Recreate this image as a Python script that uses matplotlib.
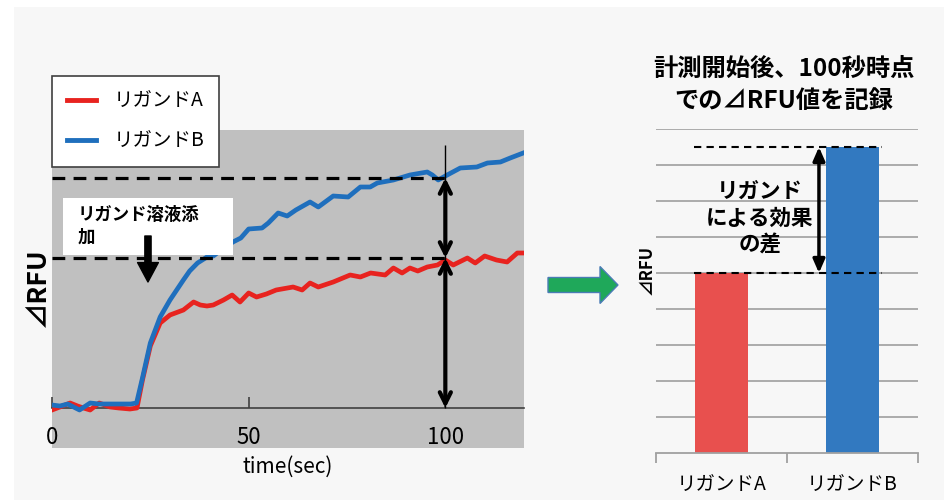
import numpy as np
import matplotlib
matplotlib.use("Agg")
import matplotlib.pyplot as plt
from matplotlib.patches import Rectangle, FancyArrow
from matplotlib.lines import Line2D

plt.rcParams['font.family'] = ['Noto Sans CJK JP', 'DejaVu Sans']

# time course (sec) and delta RFU for the two ligands
t_a = [0, 2, 4.6, 6.5, 8, 9.7, 12, 14.8, 17, 19.8, 21.6, 23, 25, 27.5, 30, 33.4, 36,
       37.7, 39.4, 41, 43.6, 45.8, 47.8, 50, 52, 54.5, 57, 61.3, 63.6, 65.6, 67.7,
       71.5, 75.8, 78.4, 81, 84.7, 86.8, 89, 91, 93, 95.4, 98, 100, 102, 105.6,
       107.6, 110, 113, 115.7, 118.3, 120]
rfu_a = [-2, 1, 5, 2, 0, -2, 5, 1, 0, -1, 0, 28, 62, 85, 93, 98, 106,
         103, 102, 103, 108, 113, 106, 115, 111, 114, 118, 121, 118, 125, 121,
         126, 133, 131, 135, 133, 140, 135, 140, 137, 141, 143, 148, 143, 150,
         145, 152, 148, 146, 155, 155]

t_b = [0, 2, 4, 7, 9.7, 12, 14, 16, 18, 20, 21.5, 23, 25, 27.5, 30, 33.4, 35, 37,
       39.4, 41, 43, 46, 48, 50, 53.4, 55, 57.5, 59.8, 62, 65.6, 67.7, 71.5, 75.3,
       78.4, 80.9, 82.7, 86.8, 91, 95.4, 96.7, 98.2, 100, 103.8, 108, 110.7, 114,
       116.5, 119.8]
rfu_b = [3, 2, 4, -2, 5, 4, 4, 4, 4, 4, 5, 30, 65, 91, 108, 128, 137, 145,
         151, 152, 158, 166, 170, 179, 180, 185, 195, 192, 198, 206, 201, 212, 211,
         221, 221, 225, 228, 233, 236, 233, 228, 232, 240, 241, 245, 246,
         250, 255]

labels = ['リガンドA', 'リガンドB']
at_100 = [150, 230]          # delta RFU read at 100 sec
read_time = 100
injection_time = 24.4
time_ticks = [0, 50, 100]

bar_values = [5, 8.5]

red_line, blue_line = '#e8231f', '#1f6fbd'
red_bar, blue_bar = '#e8504e', '#3279c0'

W, H = 944, 500
fig = plt.figure(figsize=(W / 100, H / 100), dpi=100, facecolor='white')
fig.add_artist(Rectangle((0.14, 0), 9.44, 4.93, transform=fig.dpi_scale_trans,
                         facecolor='#f7f7f7', edgecolor='none', zorder=-10))

# ---- left: time course ----
ax = fig.add_axes([52 / W, 52 / H, 472 / W, 318 / H])
ax.set_facecolor('#c0c0c0')
ax.set_xlim(0, 120)
ax.set_ylim(-40, 278)
for s in ['top', 'right', 'left']:
    ax.spines[s].set_visible(False)
ax.spines['bottom'].set_position(('data', 0))
ax.spines['bottom'].set_color('#404040')
ax.spines['bottom'].set_linewidth(1.2)
ax.set_yticks([])
ax.set_xticks(time_ticks)
ax.tick_params(axis='x', direction='in', length=8, width=1.2, color='#404040',
               pad=13, labelsize=16)
ax.set_xlabel('time(sec)', fontsize=15)
ax.xaxis.set_label_coords(0.5, -0.06)
ax.xaxis.label.set_va('center')

ax.plot(t_a, rfu_a, color=red_line, lw=3.4, zorder=3, solid_joinstyle='round')
ax.plot(t_b, rfu_b, color=blue_line, lw=3.4, zorder=3, solid_joinstyle='round')

# reading at 100 sec
ax.vlines(read_time, 0, 263, color='black', lw=1, zorder=4)
for v in at_100:
    ax.hlines(v, 0, read_time, color='black', lw=2.3, linestyles=(0, (4, 2.6)), zorder=4)
for lo, hi in [(0, at_100[0]), (at_100[0], at_100[1])]:
    ax.annotate('', xy=(read_time, hi), xytext=(read_time, lo),
                arrowprops=dict(arrowstyle='<->,head_length=0.8,head_width=0.4',
                                lw=3, color='black', shrinkA=0, shrinkB=0), zorder=5)

# injection note
ax.add_patch(Rectangle((0.63, 2.45), 1.70, 0.57, transform=fig.dpi_scale_trans,
                       facecolor='white', edgecolor='none', zorder=6))
ax.text(0.78, 2.94, 'リガンド溶液添\n加', transform=fig.dpi_scale_trans,
        ha='left', va='top', fontsize=12.5, fontweight='bold', linespacing=1.3,
        zorder=7)
ax.annotate('', xy=(injection_time, 126), xytext=(injection_time, 172),
            arrowprops=dict(facecolor='black', edgecolor='black', width=4.5,
                            headwidth=15, headlength=14, shrink=0), zorder=7)

handles = [Line2D([], [], color=red_line, lw=3.5), Line2D([], [], color=blue_line, lw=3.5)]
leg = ax.legend(handles, labels, loc='upper left', bbox_to_anchor=(52 / W, 1 - 76 / H),
                bbox_transform=fig.transFigure, borderaxespad=0, fancybox=False,
                framealpha=1, edgecolor='#404040', fontsize=14, handlelength=1.5,
                handletextpad=0.9, labelspacing=1.0, borderpad=0.75)
leg.get_frame().set_linewidth(1.2)
leg.set_zorder(8)

fig.text(37 / W, 1 - 287 / H, '⊿RFU', rotation=90, ha='center', va='center',
         fontsize=19, fontweight='bold')

# ---- green arrow ----
fig.add_artist(FancyArrow(5.48, 2.15, 0.70, 0, width=0.15, head_width=0.37,
                          head_length=0.18, length_includes_head=True,
                          transform=fig.dpi_scale_trans, facecolor='#1fa85a',
                          edgecolor='#4a7cb5', lw=1))

# ---- right: value at 100 sec ----
bx = fig.add_axes([656 / W, 47 / H, 262 / W, 324 / H])
bx.set_facecolor('none')
bx.set_xlim(-0.5, 1.5)
bx.set_ylim(0, 9)
bx.bar([0, 1], bar_values, width=0.4, color=[red_bar, blue_bar], zorder=2)
for s in ['top', 'right', 'left']:
    bx.spines[s].set_visible(False)
bx.spines['bottom'].set_color('#a0a0a0')
bx.spines['bottom'].set_linewidth(1.3)
bx.set_yticks(np.arange(1, 10))
bx.set_yticklabels([])
bx.tick_params(axis='y', length=0)
bx.grid(axis='y', color='#a6a6a6', lw=1.3, zorder=0)
bx.set_axisbelow(True)
bx.set_xticks([0, 1])
bx.set_xticklabels(labels, fontsize=14)
bx.set_xticks([-0.5, 0.5, 1.5], minor=True)
bx.tick_params(axis='x', which='major', length=0, pad=16)
bx.tick_params(axis='x', which='minor', length=7, width=1.3, color='#a0a0a0')

for v in bar_values:
    bx.hlines(v, -0.21, 1.225, color='black', lw=1.5, linestyles=(0, (3.5, 2.5)), zorder=3)
bx.annotate('', xy=(0.744, bar_values[1]), xytext=(0.744, bar_values[0]),
            arrowprops=dict(arrowstyle='<|-|>,head_length=0.8,head_width=0.35',
                            lw=2.5, color='black', shrinkA=0, shrinkB=0), zorder=4)
bx.text(0.294, 6.53, 'リガンド\nによる効果\nの差', ha='center', va='center',
        fontsize=15.5, fontweight='bold', linespacing=1.35, zorder=5)

fig.text(784 / W, 1 - 85 / H, '計測開始後、100秒時点\nでの⊿RFU値を記録', ha='center',
         va='center', fontsize=17.5, fontweight='bold', linespacing=1.4)
fig.text(647 / W, 1 - 270 / H, '⊿RFU', rotation=90, ha='center', va='center',
         fontsize=12, fontweight='bold')

fig.savefig('out.png', dpi=100, facecolor=fig.get_facecolor())
